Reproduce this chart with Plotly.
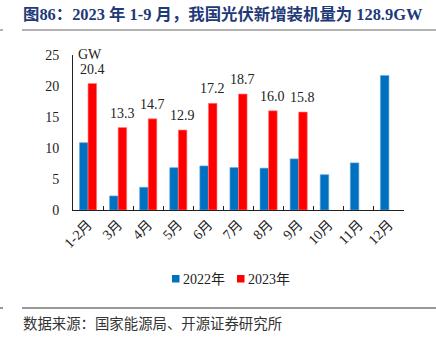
import plotly.graph_objects as go

months = ["1-2月", "3月", "4月", "5月", "6月", "7月", "8月", "9月", "10月", "11月", "12月"]
y2022 = [10.86, 2.27, 3.67, 6.83, 7.11, 6.85, 6.75, 8.25, 5.7, 7.6, 21.7]
y2023 = [20.4, 13.3, 14.7, 12.9, 17.2, 18.7, 16.0, 15.8]
months2023 = months[:len(y2023)]
yticks = [0, 5, 10, 15, 20, 25]
series_names = ["2022年", "2023年"]
colors = ["#0070C0", "#FF0000"]

SERIF = "Liberation Serif, Times New Roman, Noto Sans CJK SC, serif"
CJK = "Noto Sans CJK SC, sans-serif"

L, R, T, B = 73, 32, 55, 132
W, H = 436, 342
pw, ph = W - L - R, H - T - B

def px(x):
    return (x - L) / pw

def py(y):
    return (H - B - y) / ph

fig = go.Figure()
fig.add_bar(x=months, y=y2022, name=series_names[0], marker=dict(color=colors[0], line=dict(color="#6FA8DC", width=0.6)))
fig.add_bar(x=months2023, y=y2023, name=series_names[1], marker=dict(color=colors[1], line=dict(color="#FF8080", width=0.6)))

annotations = []
for m, v in zip(months2023, y2023):
    annotations.append(dict(x=m, y=v, xref="x", yref="y", text=f"{v:.1f}", showarrow=False,
                            xanchor="center", yanchor="bottom", xshift=4.3, yshift=5,
                            font=dict(family=SERIF, size=14, color="#222")))
annotations += [
    dict(x=px(76), y=py(54), xref="paper", yref="paper", text="GW", showarrow=False,
         xanchor="left", yanchor="middle", font=dict(family=SERIF, size=14, color="#222")),
    dict(x=px(21), y=py(14), xref="paper", yref="paper",
         text="<b>图86：2023 年 1-9 月，我国光伏新增装机量为 128.9GW</b>", showarrow=False,
         xanchor="left", yanchor="middle", font=dict(family=SERIF, size=16.4, color="#1F3A78")),
    dict(x=px(21), y=py(322), xref="paper", yref="paper",
         text="数据来源：国家能源局、开源证券研究所", showarrow=False,
         xanchor="left", yanchor="middle", font=dict(family=CJK, size=14.4, color="#333")),
]

shapes = [
    dict(type="line", xref="paper", yref="paper", x0=px(22), x1=px(436), y0=py(30), y1=py(30),
         line=dict(color="#666", width=1)),
    dict(type="line", xref="paper", yref="paper", x0=px(0), x1=px(3), y0=py(30), y1=py(30),
         line=dict(color="#666", width=1)),
    dict(type="line", xref="paper", yref="paper", x0=px(22), x1=px(436), y0=py(308), y1=py(308),
         line=dict(color="#333", width=1)),
    dict(type="line", xref="paper", yref="paper", x0=px(0), x1=px(3), y0=py(308), y1=py(308),
         line=dict(color="#333", width=1)),
]

# legend drawn manually (compact, like the reference)
leg_x = [172, 237]
for name, col, lx in zip(series_names, colors, leg_x):
    shapes.append(dict(type="rect", xref="paper", yref="paper", x0=px(lx), x1=px(lx + 7.5),
                       y0=py(282.5), y1=py(275), fillcolor=col, line=dict(width=0)))
    annotations.append(dict(x=px(lx + 8.5), y=py(279), xref="paper", yref="paper", text=name,
                            showarrow=False, xanchor="left", yanchor="middle",
                            font=dict(family=SERIF, size=14, color="#222")))

fig.update_layout(
    width=W, height=H, autosize=False,
    margin=dict(l=L, r=R, t=T, b=B, pad=0),
    paper_bgcolor="white", plot_bgcolor="white",
    barmode="group", bargap=0.43, bargroupgap=0,
    showlegend=False,
    annotations=annotations, shapes=shapes,
    font=dict(family=SERIF, size=14, color="#222"),
)
fig.update_xaxes(type="category", showline=True, linecolor="#222", linewidth=1,
                 ticks="inside", tickson="boundaries", ticklen=4, tickcolor="#222",
                 tickangle=-45, tickfont=dict(family=SERIF, size=14, color="#222"),
                 showgrid=False, zeroline=False)
fig.update_yaxes(range=[0, 25], tickvals=yticks, showline=True, linecolor="#222", linewidth=1,
                 ticks="", showgrid=False, zeroline=False,
                 tickfont=dict(family=SERIF, size=14, color="#222"), ticklabelstandoff=10)

fig.write_html("out.html")
